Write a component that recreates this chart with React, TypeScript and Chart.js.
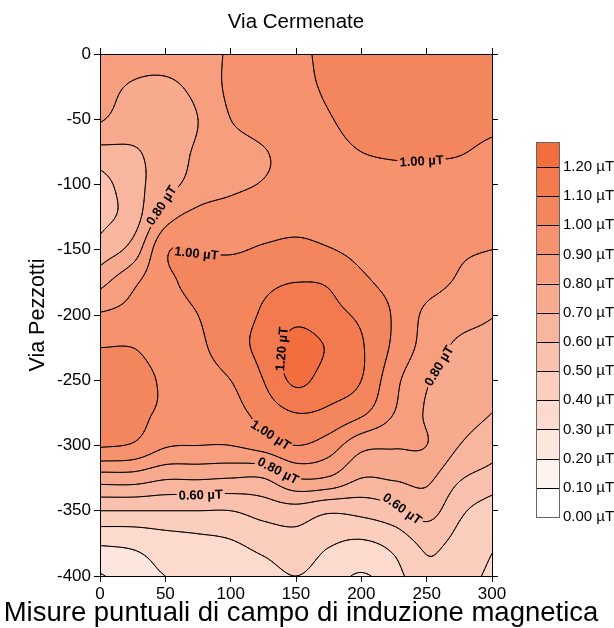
import React, { useEffect, useRef } from "react";
import { Chart, registerables } from "chart.js";

Chart.register(...registerables);

const FONT = '"Liberation Sans", Arial, Helvetica, sans-serif';

const chartTitle = "Via Cermenate";
const yAxisTitle = "Via Pezzotti";
const xAxisTitle = "Misure puntuali di campo di induzione magnetica";

const xTicks = [0, 50, 100, 150, 200, 250, 300];
const yTicks = [0, -50, -100, -150, -200, -250, -300, -350, -400];

// estimated field values (µT) on a regular measurement grid
const gridX = [0, 25, 50, 75, 100, 125, 150, 175, 200, 225, 250, 275, 300];
const gridY = [0, -25, -50, -75, -100, -125, -150, -175, -200, -225, -250, -275, -300, -325, -350, -375, -400];

const fieldY000 = [0.87, 0.85, 0.85, 0.87, 0.91, 0.95, 0.98, 1.02, 1.04, 1.06, 1.08, 1.09, 1.1];
const fieldY025 = [0.84, 0.79, 0.78, 0.83, 0.92, 0.95, 0.98, 1.01, 1.04, 1.06, 1.07, 1.08, 1.09];
const fieldY050 = [0.81, 0.75, 0.74, 0.8, 0.9, 0.94, 0.97, 0.995, 1.03, 1.04, 1.04, 1.04, 1.03];
const fieldY075 = [0.67, 0.69, 0.74, 0.815, 0.86, 0.895, 0.93, 0.97, 1.0, 1.01, 1.01, 1.005, 0.98];
const fieldY100 = [0.56, 0.66, 0.76, 0.84, 0.88, 0.905, 0.93, 0.95, 0.96, 0.97, 0.97, 0.965, 0.96];
const fieldY125 = [0.57, 0.65, 0.86, 0.93, 0.945, 0.96, 0.975, 0.97, 0.955, 0.95, 0.945, 0.94, 0.93];
const fieldY150 = [0.64, 0.74, 0.985, 0.995, 0.99, 1.01, 1.02, 1.005, 0.975, 0.945, 0.925, 0.91, 0.9];
const fieldY175 = [0.77, 0.88, 0.975, 1.03, 1.06, 1.08, 1.1, 1.09, 1.02, 0.97, 0.93, 0.89, 0.855];
const fieldY200 = [0.91, 0.93, 0.95, 1.0, 1.06, 1.11, 1.17, 1.13, 1.08, 0.99, 0.88, 0.84, 0.805];
const fieldY225 = [1.0, 1.0, 0.96, 0.98, 1.06, 1.13, 1.24, 1.19, 1.11, 0.98, 0.86, 0.78, 0.76];
const fieldY250 = [1.04, 1.04, 0.985, 0.96, 1.0, 1.1, 1.22, 1.15, 1.1, 0.93, 0.81, 0.75, 0.72];
const fieldY275 = [1.04, 1.03, 0.98, 0.95, 0.96, 1.04, 1.1, 1.08, 1.02, 0.9, 0.79, 0.74, 0.7];
const fieldY300 = [1.01, 0.99, 0.91, 0.9, 0.9, 0.94, 1.0, 0.95, 0.83, 0.81, 0.8, 0.7, 0.64];
const fieldY325 = [0.75, 0.75, 0.71, 0.71, 0.7, 0.7, 0.8, 0.79, 0.7, 0.71, 0.72, 0.61, 0.56];
const fieldY350 = [0.5, 0.5, 0.5, 0.5, 0.5, 0.54, 0.56, 0.515, 0.53, 0.57, 0.64, 0.52, 0.45];
const fieldY375 = [0.31, 0.32, 0.35, 0.37, 0.39, 0.43, 0.46, 0.41, 0.385, 0.43, 0.52, 0.47, 0.41];
const fieldY400 = [0.19, 0.25, 0.3, 0.32, 0.34, 0.36, 0.4, 0.35, 0.29, 0.36, 0.48, 0.44, 0.38];

const fieldRows = [
  fieldY000, fieldY025, fieldY050, fieldY075, fieldY100, fieldY125, fieldY150, fieldY175, fieldY200,
  fieldY225, fieldY250, fieldY275, fieldY300, fieldY325, fieldY350, fieldY375, fieldY400,
];

const contourLevels = [0.1, 0.2, 0.3, 0.4, 0.5, 0.6, 0.7, 0.8, 0.9, 1.0, 1.1, 1.2];
const legendLabels = [
  "0.00 µT", "0.10 µT", "0.20 µT", "0.30 µT", "0.40 µT", "0.50 µT", "0.60 µT",
  "0.70 µT", "0.80 µT", "0.90 µT", "1.00 µT", "1.10 µT", "1.20 µT",
];
const bandColors = [
  "#FFFFFF", "#FEF2EE", "#FDE6DE", "#FCDACE", "#FBCEBE", "#FAC2AE", "#F9B69E",
  "#F8AA8E", "#F79E7E", "#F6926E", "#F4865E", "#F37A4E", "#F26E3E",
];

// contour label anchors (data coordinates) and their levels
const labelX = [47, 74, 246, 145, 258, 132, 136, 77, 231];
const labelY = [-116, -151, -80, -227, -238, -290, -320, -334, -349];
const labelLevel = [0.8, 1.0, 1.0, 1.2, 0.8, 1.0, 0.8, 0.6, 0.6];

function node(j: number, i: number): number {
  const nx = gridX.length;
  const ny = gridY.length;
  if (i < 0) return 2 * node(j, 0) - node(j, 1);
  if (i > nx - 1) return 2 * node(j, nx - 1) - node(j, nx - 2);
  if (j < 0) return 2 * node(0, i) - node(1, i);
  if (j > ny - 1) return 2 * node(ny - 1, i) - node(ny - 2, i);
  return fieldRows[j][i];
}

function cr(p0: number, p1: number, p2: number, p3: number, t: number) {
  return p1 + 0.5 * t * (p2 - p0 + t * (2 * p0 - 5 * p1 + 4 * p2 - p3 + t * (3 * (p1 - p2) + p3 - p0)));
}

function fieldAt(x: number, y: number): number {
  const nx = gridX.length;
  const ny = gridY.length;
  let gx = (x - gridX[0]) / (gridX[1] - gridX[0]);
  let gy = (y - gridY[0]) / (gridY[1] - gridY[0]);
  gx = Math.max(0, Math.min(nx - 1, gx));
  gy = Math.max(0, Math.min(ny - 1, gy));
  const i = Math.min(Math.floor(gx), nx - 2);
  const j = Math.min(Math.floor(gy), ny - 2);
  const tx = gx - i;
  const ty = gy - j;
  const r: number[] = [];
  for (let m = -1; m <= 2; m++) {
    r.push(cr(node(j + m, i - 1), node(j + m, i), node(j + m, i + 1), node(j + m, i + 2), tx));
  }
  return cr(r[0], r[1], r[2], r[3], ty);
}

function hexToRgb(h: string) {
  const n = parseInt(h.slice(1), 16);
  return [(n >> 16) & 255, (n >> 8) & 255, n & 255];
}

const MS: Record<number, number[][]> = {
  1: [[3, 0]], 2: [[0, 1]], 3: [[3, 1]], 4: [[1, 2]], 6: [[0, 2]], 7: [[3, 2]],
  8: [[2, 3]], 9: [[0, 2]], 11: [[1, 2]], 12: [[1, 3]], 13: [[0, 1]], 14: [[3, 0]],
};

const LABEL_FONT = `bold 13px ${FONT}`;

const contourPlugin = {
  id: "contourField",
  beforeDraw(chart: any) {
    const { ctx, chartArea: a, scales } = chart;
    const xs = scales.x;
    const ys = scales.y;
    const left = Math.round(a.left);
    const top = Math.round(a.top);
    const w = Math.round(a.right) - left;
    const h = Math.round(a.bottom) - top;

    // filled bands
    const off = document.createElement("canvas");
    off.width = w;
    off.height = h;
    const octx = off.getContext("2d")!;
    const img = octx.createImageData(w, h);
    const rgb = bandColors.map(hexToRgb);
    const dx = new Float64Array(w);
    const dy = new Float64Array(h);
    for (let c = 0; c < w; c++) dx[c] = xs.getValueForPixel(left + c + 0.5);
    for (let r = 0; r < h; r++) dy[r] = ys.getValueForPixel(top + r + 0.5);
    for (let r = 0; r < h; r++) {
      for (let c = 0; c < w; c++) {
        const v = fieldAt(dx[c], dy[r]);
        let k = 0;
        for (let l = 0; l < contourLevels.length; l++) if (v >= contourLevels[l]) k = l + 1;
        const col = rgb[k];
        const p = (r * w + c) * 4;
        img.data[p] = col[0];
        img.data[p + 1] = col[1];
        img.data[p + 2] = col[2];
        img.data[p + 3] = 255;
      }
    }
    octx.putImageData(img, 0, 0);
    ctx.drawImage(off, left, top);

    // marching squares sampling
    const step = 2;
    const nc = Math.ceil(w / step);
    const nr = Math.ceil(h / step);
    const px: number[] = [];
    const py: number[] = [];
    for (let i = 0; i <= nc; i++) px.push(left + Math.min(i * step, w));
    for (let j = 0; j <= nr; j++) py.push(top + Math.min(j * step, h));
    const V = new Float64Array((nc + 1) * (nr + 1));
    for (let j = 0; j <= nr; j++) {
      const yv = ys.getValueForPixel(py[j]);
      for (let i = 0; i <= nc; i++) V[j * (nc + 1) + i] = fieldAt(xs.getValueForPixel(px[i]), yv);
    }

    // labels placed on their contour
    ctx.font = LABEL_FONT;
    const F = (X: number, Y: number) => fieldAt(xs.getValueForPixel(X), ys.getValueForPixel(Y));
    const labels = labelLevel.map((L, n) => {
      let X = xs.getPixelForValue(labelX[n]);
      let Y = ys.getPixelForValue(labelY[n]);
      for (let it = 0; it < 12; it++) {
        const v = F(X, Y);
        const gx = (F(X + 1, Y) - F(X - 1, Y)) / 2;
        const gy = (F(X, Y + 1) - F(X, Y - 1)) / 2;
        const g2 = gx * gx + gy * gy;
        if (g2 < 1e-14) break;
        let sx = (-(v - L) * gx) / g2;
        let sy = (-(v - L) * gy) / g2;
        const sl = Math.hypot(sx, sy);
        if (sl > 3) {
          sx *= 3 / sl;
          sy *= 3 / sl;
        }
        X += sx;
        Y += sy;
      }
      const gx = (F(X + 2, Y) - F(X - 2, Y)) / 4;
      const gy = (F(X, Y + 2) - F(X, Y - 2)) / 4;
      let ang = Math.atan2(gx, -gy);
      while (ang > Math.PI / 2) ang -= Math.PI;
      while (ang <= -Math.PI / 2) ang += Math.PI;
      const text = legendLabels[Math.round(L * 10)];
      const tw = ctx.measureText(text).width + 4;
      const th = 13;
      return { X, Y, ang, text, tw, th };
    });

    ctx.save();
    ctx.beginPath();
    ctx.rect(left, top, w, h);
    labels.forEach((lb) => {
      const c = Math.cos(lb.ang);
      const s = Math.sin(lb.ang);
      const hw = lb.tw / 2;
      const hh = lb.th / 2;
      const pts = [
        [-hw, -hh], [hw, -hh], [hw, hh], [-hw, hh],
      ].map(([u, v]) => [lb.X + u * c - v * s, lb.Y + u * s + v * c]);
      ctx.moveTo(pts[0][0], pts[0][1]);
      for (let q = 1; q < 4; q++) ctx.lineTo(pts[q][0], pts[q][1]);
      ctx.closePath();
    });
    ctx.clip("evenodd");

    ctx.strokeStyle = "#000";
    ctx.lineWidth = 1;
    ctx.lineCap = "round";
    ctx.beginPath();
    contourLevels.forEach((L) => {
      for (let j = 0; j < nr; j++) {
        for (let i = 0; i < nc; i++) {
          const v0 = V[j * (nc + 1) + i];
          const v1 = V[j * (nc + 1) + i + 1];
          const v2 = V[(j + 1) * (nc + 1) + i + 1];
          const v3 = V[(j + 1) * (nc + 1) + i];
          const idx = (v0 > L ? 1 : 0) | (v1 > L ? 2 : 0) | (v2 > L ? 4 : 0) | (v3 > L ? 8 : 0);
          if (idx === 0 || idx === 15) continue;
          let segs = MS[idx];
          if (idx === 5 || idx === 10) {
            const cAbove = (v0 + v1 + v2 + v3) / 4 > L;
            if (idx === 5) segs = cAbove ? [[0, 1], [2, 3]] : [[3, 0], [1, 2]];
            else segs = cAbove ? [[3, 0], [1, 2]] : [[0, 1], [2, 3]];
          }
          const x0 = px[i], x1 = px[i + 1], y0 = py[j], y1 = py[j + 1];
          const t = (a1: number, b1: number) => (L - a1) / (b1 - a1);
          const pt = (e: number) => {
            if (e === 0) return [x0 + (x1 - x0) * t(v0, v1), y0];
            if (e === 1) return [x1, y0 + (y1 - y0) * t(v1, v2)];
            if (e === 2) return [x1 + (x0 - x1) * t(v2, v3), y1];
            return [x0, y1 + (y0 - y1) * t(v3, v0)];
          };
          segs.forEach(([e1, e2]) => {
            const p1 = pt(e1);
            const p2 = pt(e2);
            ctx.moveTo(p1[0], p1[1]);
            ctx.lineTo(p2[0], p2[1]);
          });
        }
      }
    });
    ctx.stroke();
    ctx.restore();

    ctx.save();
    ctx.fillStyle = "#000";
    ctx.font = LABEL_FONT;
    ctx.textAlign = "center";
    ctx.textBaseline = "middle";
    labels.forEach((lb) => {
      ctx.save();
      ctx.translate(lb.X, lb.Y);
      ctx.rotate(lb.ang);
      ctx.fillText(lb.text, 0, 1);
      ctx.restore();
    });
    ctx.restore();
  },
  afterDraw(chart: any) {
    const { ctx, chartArea: a } = chart;
    ctx.save();
    ctx.fillStyle = "#000";
    ctx.textAlign = "center";
    ctx.font = `20.5px ${FONT}`;
    ctx.textBaseline = "alphabetic";
    ctx.fillText(chartTitle, (a.left + a.right) / 2, 28);

    ctx.save();
    ctx.translate(38, (a.top + a.bottom) / 2);
    ctx.rotate(-Math.PI / 2);
    ctx.font = `21.5px ${FONT}`;
    ctx.textBaseline = "middle";
    ctx.fillText(yAxisTitle, 0, 0);
    ctx.restore();

    ctx.font = `27.5px ${FONT}`;
    ctx.textBaseline = "alphabetic";
    ctx.fillText(xAxisTitle, 301, 621);

    // colour bar legend
    const barLeft = 536;
    const barW = 23;
    const barBottom = 517;
    const barTop = 142;
    const boxH = 29.17;
    const n = bandColors.length;
    for (let k = 0; k < n; k++) {
      const yTop = k === n - 1 ? barTop : barBottom - (k + 1) * boxH;
      const yBot = barBottom - k * boxH;
      ctx.fillStyle = bandColors[k];
      ctx.fillRect(barLeft, yTop, barW, yBot - yTop);
    }
    ctx.strokeStyle = "#000";
    ctx.lineWidth = 1;
    for (let k = 1; k < n; k++) {
      const yy = Math.round(barBottom - k * boxH) + 0.5;
      ctx.beginPath();
      ctx.moveTo(barLeft, yy);
      ctx.lineTo(barLeft + barW, yy);
      ctx.stroke();
    }
    ctx.strokeStyle = "#666";
    ctx.strokeRect(barLeft + 0.5, barTop + 0.5, barW, barBottom - barTop);
    ctx.fillStyle = "#000";
    ctx.font = `15px ${FONT}`;
    ctx.textAlign = "left";
    ctx.textBaseline = "middle";
    for (let k = 0; k < n; k++) {
      ctx.fillText(legendLabels[k], barLeft + barW + 4, barBottom - k * boxH);
    }
    ctx.restore();
  },
};

const axisGrid = { drawOnChartArea: false, drawTicks: true, tickLength: 6, color: "#000", lineWidth: 1 };
const axisBorder = { display: true, color: "#000", width: 1 };

export default function App() {
  const ref = useRef<HTMLCanvasElement>(null);
  useEffect(() => {
    const canvas = ref.current!;
    const chart = new Chart(canvas, {
      type: "scatter",
      data: { datasets: [{ data: [], pointRadius: 0 }] },
      options: {
        responsive: false,
        animation: false,
        events: [],
        layout: { padding: 0 },
        plugins: { legend: { display: false }, tooltip: { enabled: false }, title: { display: false } },
        scales: {
          x: {
            type: "linear",
            position: "bottom",
            min: 0,
            max: 300,
            afterBuildTicks: (s: any) => {
              s.ticks = xTicks.map((v) => ({ value: v }));
            },
            afterFit: (s: any) => {
              s.height = 52;
            },
            ticks: { color: "#000", font: { family: FONT, size: 17 }, padding: 2, maxRotation: 0, autoSkip: false, callback: (v: any) => String(v) },
            grid: axisGrid,
            border: axisBorder,
          },
          x2: {
            type: "linear",
            position: "top",
            min: 0,
            max: 300,
            afterBuildTicks: (s: any) => {
              s.ticks = xTicks.map((v) => ({ value: v }));
            },
            afterFit: (s: any) => {
              s.height = 54;
            },
            ticks: { display: false },
            grid: axisGrid,
            border: axisBorder,
          },
          y: {
            type: "linear",
            position: "left",
            min: -400,
            max: 0,
            afterBuildTicks: (s: any) => {
              s.ticks = yTicks.map((v) => ({ value: v }));
            },
            afterFit: (s: any) => {
              s.width = 100;
            },
            ticks: { color: "#000", font: { family: FONT, size: 17 }, padding: 3, autoSkip: false, callback: (v: any) => String(v) },
            grid: axisGrid,
            border: axisBorder,
          },
          y2: {
            type: "linear",
            position: "right",
            min: -400,
            max: 0,
            afterBuildTicks: (s: any) => {
              s.ticks = yTicks.map((v) => ({ value: v }));
            },
            afterFit: (s: any) => {
              s.width = 122;
            },
            ticks: { display: false },
            grid: axisGrid,
            border: axisBorder,
          },
        },
      } as any,
      plugins: [contourPlugin],
    });
    return () => chart.destroy();
  }, []);
  return (
    <div style={{ position: "absolute", left: 0, top: 0, width: 614, height: 628 }}>
      <canvas ref={ref} width={614} height={628} style={{ display: "block" }} />
    </div>
  );
}
